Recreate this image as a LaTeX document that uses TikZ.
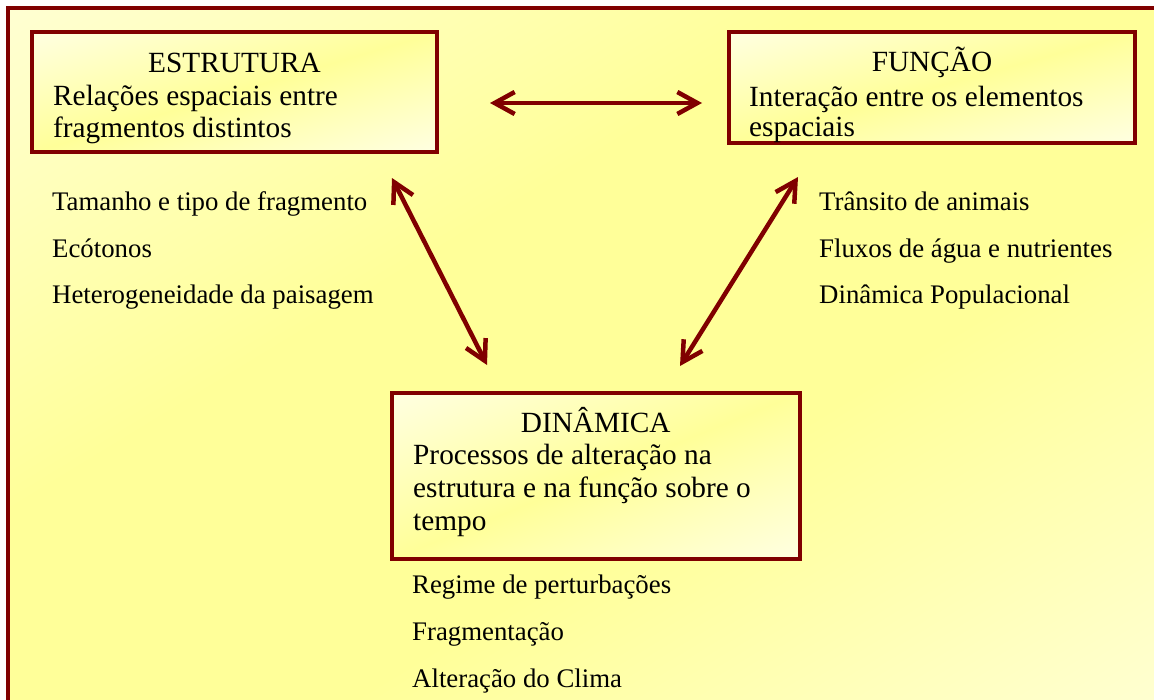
\documentclass[tikz,border=0pt]{standalone}
\usepackage{fontspec}
\setmainfont{Liberation Serif}
\usetikzlibrary{arrows.meta}
\definecolor{maroon}{RGB}{128,0,0}
\definecolor{yel}{RGB}{255,255,153}
\colorlet{bgend}{yel!12}
\pgfdeclareverticalshading{bgdiag}{100bp}{color(0bp)=(bgend); color(40bp)=(yel); color(60bp)=(yel); color(100bp)=(bgend)}
\pgfdeclareverticalshading{boxdiag}{100bp}{color(0bp)=(white); color(50bp)=(yel); color(100bp)=(white)}
% gradient whose contours run parallel to the rectangle's diagonal
\newcommand{\diagfill}[5]{%
  \begin{scope}[transform canvas={shift={(#1,#2)}, xscale=#3/100, yscale=#4/100}]
    \shade[shading=#5, shading angle=45] (0,0) rectangle (100,100);
  \end{scope}}
\tikzset{
  boxnode/.style={draw=maroon, line width=4pt, inner sep=0pt},
  boxtitle/.style={inner sep=0pt, anchor=base, font=\fontsize{29.3}{33}\selectfont},
  boxtext/.style={inner sep=0pt, anchor=base west, font=\fontsize{29.3}{33}\selectfont},
  listtext/.style={inner sep=0pt, anchor=base west, font=\fontsize{26.8}{30}\selectfont},
  conn/.style={draw=maroon, line width=4.5pt,
    {Straight Barb[length=20pt,width=22pt]}-{Straight Barb[length=20pt,width=22pt]}},
  frameline/.style={draw=maroon, line width=4pt}
}
\begin{document}
\begin{tikzpicture}[x=1pt,y=-1pt]
\useasboundingbox (0,0) rectangle (1154,699);
\fill[white] (0,0) rectangle (1154,699);
\begin{scope}
\clip (0,0) rectangle (1154,699);
\diagfill{6}{6}{1160}{705}{bgdiag}
\draw[frameline] (8,720) -- (8,8) -- (1170,8);
\end{scope}

% box fills
\diagfill{32}{32}{405}{120}{boxdiag}
\diagfill{729}{32}{406}{111}{boxdiag}
\diagfill{392}{393}{407.5}{166}{boxdiag}

% boxes
\node[boxnode, minimum width=405pt, minimum height=120pt] (estr) at (234.5,92) {};
\node[boxnode, minimum width=406pt, minimum height=111pt] (func) at (932,87.5) {};
\node[boxnode, minimum width=407.5pt, minimum height=166pt] (dina) at (595.75,476) {};

% box texts
\node[boxtitle] (estrT) at (234.5,72) {ESTRUTURA};
\node[boxtext] (estr1) at (53,105) {Relações espaciais entre};
\node[boxtext] (estr2) at (53,137) {fragmentos distintos};

\node[boxtitle] (funcT) at (932,71) {FUNÇÃO};
\node[boxtext] (func1) at (749,106) {Interação entre os elementos};
\node[boxtext] (func2) at (749,136) {espaciais};

\node[boxtitle] (dinaT) at (595.75,432) {DINÂMICA};
\node[boxtext] (dina1) at (413,464) {Processos de alteração na};
\node[boxtext] (dina2) at (413,497) {estrutura e na função sobre o};
\node[boxtext] (dina3) at (413,530) {tempo};

% lists
\node[listtext] (l1) at (52,210) {Tamanho e tipo de fragmento};
\node[listtext] (l2) at (52,257) {Ecótonos};
\node[listtext] (l3) at (52,303) {Heterogeneidade da paisagem};

\node[listtext] (r1) at (819,210) {Trânsito de animais};
\node[listtext] (r2) at (819,257) {Fluxos de água e nutrientes};
\node[listtext] (r3) at (819,303) {Dinâmica Populacional};

\node[listtext] (b1) at (412,593) {Regime de perturbações};
\node[listtext] (b2) at (412,640) {Fragmentação};
\node[listtext] (b3) at (412,687) {Alteração do Clima};

% connectors
\coordinate (hA) at (490,103);
\coordinate (hB) at (702,103);
\coordinate (lA) at (392,178);
\coordinate (lB) at (487,365);
\coordinate (rA) at (798,177);
\coordinate (rB) at (680,366);
\draw[conn] (hA) -- (hB);
\draw[conn] (lA) -- (lB);
\draw[conn] (rA) -- (rB);
\end{tikzpicture}
\end{document}
